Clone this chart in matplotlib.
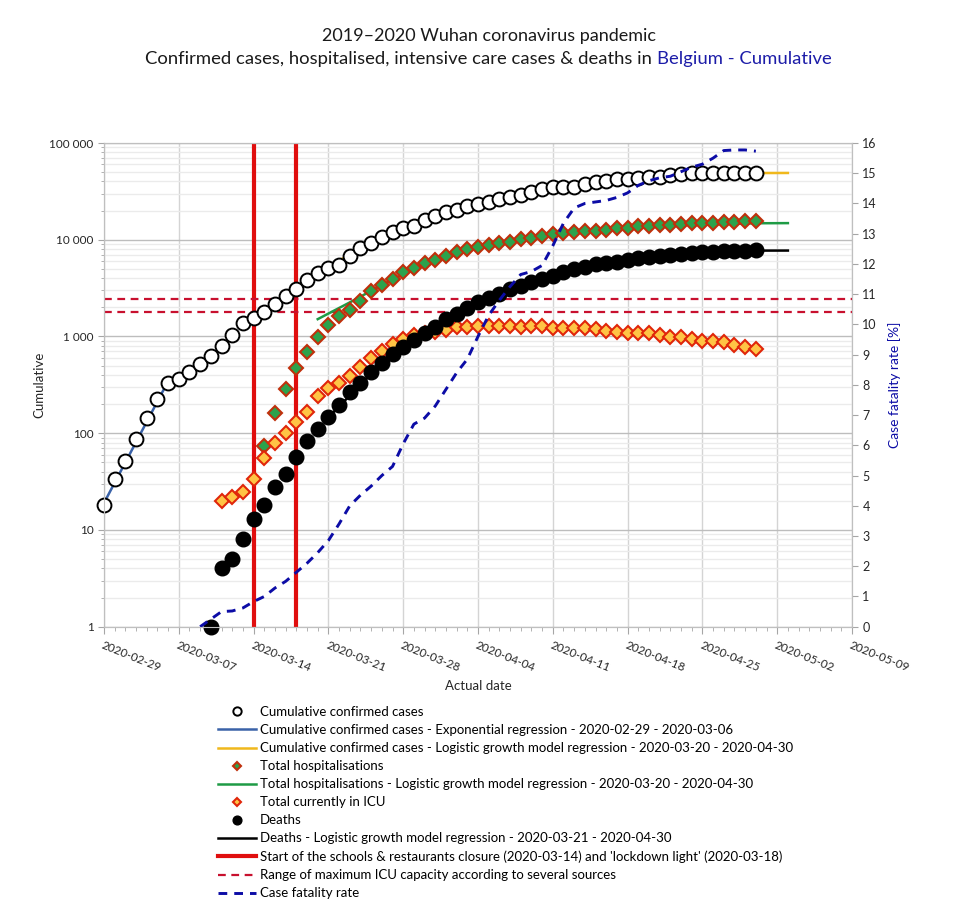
import pandas as pd
import matplotlib
matplotlib.use("Agg")
import matplotlib.pyplot as plt
import matplotlib.dates as mdates
from matplotlib.ticker import FixedLocator, FuncFormatter, LogLocator, NullFormatter

plt.rcParams['font.family'] = ['Lato', 'DejaVu Sans']

# daily series, one value per day from the start date
confirmed_start = '2020-02-29'
confirmed = [18,
             34, 52, 88, 143, 225, 334, 367, 428, 521, 630, 800, 1031, 1392, 1570, 1783,
             2173, 2650, 3128, 3846, 4580, 5084, 5543, 6812, 8245, 9290, 10790, 12160,
             13190, 13930, 16080, 17540,
             19290, 20370, 22430, 23500, 24830, 26490, 27980, 29120, 31500, 33350, 34980,
             35480, 35480, 37580, 39430, 40640, 42360, 42660, 43360, 44700, 45040, 46170,
             47250, 48390, 48860, 48860, 48860, 49200, 49550, 49550]

hosp_start = '2020-03-15'
hosp = [73, 163, 289, 477, 689, 984, 1327, 1620, 1884, 2340, 2960, 3413, 3942, 4690,
        5160, 5724, 6195,
        6815, 7446, 7995, 8380, 8852, 9220, 9580, 10100, 10540, 11050, 11500, 11700,
        11990, 12370, 12450, 12750, 13070, 13280, 13710, 13930, 14270, 14370, 14600,
        14850, 14960, 15070, 15210, 15310, 15560, 15680]

icu_start = '2020-03-11'
icu = [20, 22, 24.5, 34, 55, 80, 101, 132, 167, 243, 292, 330, 390, 488, 600, 710, 838,
       950, 1040, 1090, 1124,
       1165, 1248, 1266, 1288, 1288, 1288, 1288, 1266, 1288, 1288, 1236, 1236, 1218,
       1218, 1199, 1151, 1108, 1082, 1082, 1082, 1040, 998, 998, 944, 907, 907, 886,
       818, 787, 745]

deaths_start = '2020-03-10'
deaths = [1, 4, 5, 8, 13, 18, 28, 38, 57, 83, 110, 146, 195, 268, 334, 434, 530, 661,
          787, 922, 1082, 1266,
          1510, 1701, 1963, 2296, 2525, 2760, 3085, 3330, 3700, 3942, 4234, 4625, 4966,
          5284, 5594, 5724, 5953, 6195, 6451, 6607, 6815, 6982, 7150, 7269, 7446, 7553,
          7680, 7730, 7730, 7750]

cfr_start = '2020-03-09'
cfr = [0.0, 0.25, 0.50, 0.52, 0.62, 0.83, 1.0, 1.28, 1.50, 1.80, 2.10, 2.45, 2.85, 3.40,
       4.0, 4.35, 4.65, 5.0, 5.3, 6.05, 6.7, 6.9, 7.3,
       7.85, 8.4, 8.85, 9.6, 10.3, 10.8, 11.25, 11.65, 11.75, 11.95, 12.6, 13.35, 13.85,
       14.0, 14.05, 14.1, 14.2, 14.35, 14.6, 14.75, 14.85, 14.9, 15.05, 15.2, 15.3, 15.5,
       15.75, 15.77, 15.77, 15.73]

# regression curves
exp_dates = ['2020-02-29', '2020-03-06']
exp_fit = [19, 345]

conf_fit_dates = ['2020-03-20', '2020-03-25', '2020-03-30', '2020-04-04', '2020-04-09',
                  '2020-04-14', '2020-04-19', '2020-04-24', '2020-04-30', '2020-05-03']
conf_fit = [4600, 9300, 16000, 23500, 31500, 37600, 43300, 47500, 48900, 49000]

hosp_fit_dates = ['2020-03-20', '2020-03-23', '2020-03-26', '2020-03-30', '2020-04-04',
                  '2020-04-09', '2020-04-14', '2020-04-19', '2020-04-24', '2020-04-30',
                  '2020-05-03']
hosp_fit = [1510, 2250, 3400, 5700, 8400, 10500, 12300, 13600, 14300, 14800, 14850]

deaths_fit_dates = ['2020-03-21', '2020-03-26', '2020-03-31', '2020-04-05', '2020-04-10',
                    '2020-04-15', '2020-04-20', '2020-04-25', '2020-04-30', '2020-05-03']
deaths_fit = [146, 530, 1266, 2525, 3942, 5594, 6607, 7446, 7720, 7730]

measure_dates = ['2020-03-14', '2020-03-18']
icu_capacity = [2430, 1800]

x_start, x_end = '2020-02-29', '2020-05-09'

labels = [
    'Cumulative confirmed cases',
    'Cumulative confirmed cases - Exponential regression - 2020-02-29 - 2020-03-06',
    'Cumulative confirmed cases - Logistic growth model regression - 2020-03-20 - 2020-04-30',
    'Total hospitalisations',
    'Total hospitalisations - Logistic growth model regression - 2020-03-20 - 2020-04-30',
    'Total currently in ICU',
    'Deaths',
    'Deaths - Logistic growth model regression - 2020-03-21 - 2020-04-30',
    "Start of the schools & restaurants closure (2020-03-14) and 'lockdown light' (2020-03-18)",
    'Range of maximum ICU capacity according to several sources',
    'Case fatality rate',
]


def days(start, values):
    return pd.date_range(start, periods=len(values), freq='D')


W, H = 960, 923
fig = plt.figure(figsize=(W / 100, H / 100), dpi=100)
ax = fig.add_axes([104 / W, 1 - 626.7 / H, 748 / W, (626.7 - 143) / H])

ax.set_yscale('log')
ax.set_ylim(1, 1e5)
ax.set_xlim(pd.Timestamp(x_start), pd.Timestamp(x_end))

h_red = None
for d in measure_dates:
    h_red = ax.axvline(pd.Timestamp(d), color='#E00E0E', lw=3, zorder=2)
h_cap = None
for v in icu_capacity:
    h_cap, = ax.plot([pd.Timestamp(x_start), pd.Timestamp(x_end)], [v, v], color='#C8102E',
                     lw=1.6, ls=(0, (3.5, 2.5)), zorder=2)

h_exp, = ax.plot(pd.to_datetime(exp_dates), exp_fit, color='#3A62A8', lw=1.8, zorder=3)
h_cfit, = ax.plot(pd.to_datetime(conf_fit_dates), conf_fit, color='#F0B81C', lw=1.8, zorder=3)
h_hfit, = ax.plot(pd.to_datetime(hosp_fit_dates), hosp_fit, color='#1E9B45', lw=1.8, zorder=3)
h_dfit, = ax.plot(pd.to_datetime(deaths_fit_dates), deaths_fit, color='black', lw=1.8, zorder=3)

h_conf, = ax.plot(days(confirmed_start, confirmed), confirmed, ls='none', marker='o', ms=10,
                  mfc='white', mec='black', mew=1.4, zorder=4, clip_on=False)
h_hosp, = ax.plot(days(hosp_start, hosp), hosp, ls='none', marker='D', ms=7.5,
                  mfc='#2CA24C', mec='#C0300C', mew=1.5, zorder=4, clip_on=False)
h_icu, = ax.plot(days(icu_start, icu), icu, ls='none', marker='D', ms=7.5,
                 mfc='#FFC445', mec='#E0260A', mew=1.5, zorder=4, clip_on=False)
h_deaths, = ax.plot(days(deaths_start, deaths), deaths, ls='none', marker='o', ms=10.5,
                    mfc='black', mec='black', zorder=5, clip_on=False)

# grid and ticks
ax.set_axisbelow(True)
ax.grid(which='major', axis='y', color='#BDBDBD', lw=1)
ax.grid(which='minor', axis='y', color='#EBEBEB', lw=1)
ax.grid(which='major', axis='x', color='#D4D4D4', lw=1)
ax.yaxis.set_major_locator(LogLocator(base=10))
ax.yaxis.set_minor_locator(LogLocator(base=10, subs=range(2, 10)))
ax.yaxis.set_minor_formatter(NullFormatter())
ax.yaxis.set_major_formatter(FuncFormatter(lambda v, p: f'{int(round(v)):,}'.replace(',', ' ')))

week_ticks = pd.date_range(x_start, x_end, freq='7D')
ax.xaxis.set_major_locator(FixedLocator(mdates.date2num(week_ticks)))
ax.xaxis.set_minor_locator(mdates.DayLocator())
ax.xaxis.set_major_formatter(mdates.DateFormatter('%Y-%m-%d'))
ax.tick_params(axis='x', which='major', length=5, color='#A6A6A6', labelsize=8.5,
               labelcolor='#262626', pad=4)
ax.tick_params(axis='x', which='minor', length=3, color='#A6A6A6')
ax.tick_params(axis='y', which='major', length=4, color='#A6A6A6', labelsize=8.5,
               labelcolor='#262626')
ax.tick_params(axis='y', which='minor', length=2.5, color='#A6A6A6')
for lbl in ax.get_xticklabels():
    lbl.set_rotation(-22)
    lbl.set_ha('left')
    lbl.set_va('top')
    lbl.set_rotation_mode('anchor')
for s in ax.spines.values():
    s.set_color('#BFBFBF')

ax.set_xlabel('Actual date', fontsize=9.5, color='#262626', labelpad=5)
ax.set_ylabel('Cumulative', fontsize=9.5, color='#262626', labelpad=3)

ax2 = ax.twinx()
ax2.set_ylim(0, 16)
ax2.set_yticks(range(0, 17))
h_cfr, = ax2.plot(days(cfr_start, cfr), cfr, color='#0C0CA6', lw=2.1, ls=(0, (3, 2.4)))
ax2.tick_params(axis='y', length=4, color='#A6A6A6', labelsize=9, labelcolor='#262626')
for s in ax2.spines.values():
    s.set_color('#BFBFBF')
ax2.set_ylabel('Case fatality rate [%]', fontsize=10, color='#0C0CA6', labelpad=8)

# titles
y1 = 1 - 36 / H
y2 = 1 - 59 / H
fig.text(489.5 / W, y1, '2019–2020 Wuhan coronavirus pandemic', ha='center', va='center',
         fontsize=13, color='#1A1A1A')
t_a = fig.text(0, y2, 'Confirmed cases, hospitalised, intensive care cases & deaths in ',
               ha='left', va='center', fontsize=13.3, color='#1A1A1A')
t_b = fig.text(0, y2, 'Belgium - Cumulative', ha='left', va='center', fontsize=13.3,
               color='#1C1CA8')
r = fig.canvas.get_renderer()
wa = t_a.get_window_extent(r).width
wb = t_b.get_window_extent(r).width
x0 = 488.5 - (wa + wb) / 2
t_a.set_x(x0 / W)
t_b.set_x((x0 + wa) / W)

handles = [h_conf, h_exp, h_cfit, h_hosp, h_hfit, h_icu, h_deaths, h_dfit, h_red, h_cap, h_cfr]
fig.legend(handles, labels, loc='upper left', bbox_to_anchor=(218 / W, 1 - 706 / H),
           frameon=False, fontsize=9.5, handlelength=2.9, handletextpad=0.3,
           labelspacing=0.46, markerscale=0.6, borderpad=0, borderaxespad=0)

fig.savefig('out.png', dpi=100)
